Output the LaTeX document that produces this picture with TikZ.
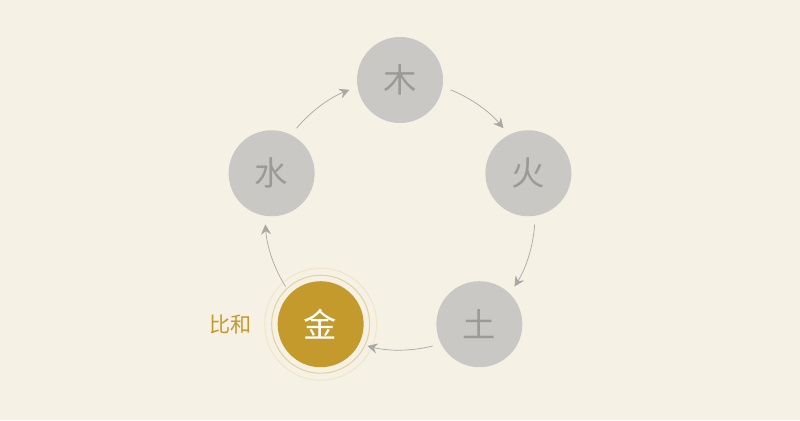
\documentclass[tikz,border=0pt]{standalone}
\usepackage{fontspec}
\newfontfamily\cjk{Noto Sans CJK SC}
\usetikzlibrary{arrows.meta,calc,positioning}
\definecolor{paper}{HTML}{F6F1E5}
\definecolor{gold}{HTML}{C49A2C}
\definecolor{ash}{HTML}{C9C8C5}
\definecolor{ink}{HTML}{9B9A97}
\definecolor{arc}{HTML}{A9A8A5}
\tikzset{
  elem/.style={circle,fill=ash,minimum size=1.72cm,inner sep=0pt,
    text=ink,font=\cjk\fontsize{19}{19}\selectfont},
  self/.style={elem,fill=gold,text=white},
  flow/.style={-{Stealth[length=2mm,width=2mm]},arc,thin}
}
\begin{document}
\begin{tikzpicture}
  \fill[paper] (0,0) rectangle (16,8.4);
  \useasboundingbox (0,0) rectangle (16,8.4);
  \coordinate (C) at (8,4.1);
  % the five elements
  \node[elem] (wood) at ($(C)+(90:2.7)$) {木};
  \node[elem] (fire) at ($(C)+(18:2.7)$) {火};
  \node[elem] (earth) at ($(C)+(-54:2.7)$) {土};
  \node[self] (metal) at ($(C)+(-126:2.7)$) {金};
  \node[elem] (water) at ($(C)+(162:2.7)$) {水};
  % rings round the self element
  \draw[gold!45,line width=0.6pt] (metal) circle (0.98);
  \draw[gold!25,line width=0.6pt] (metal) circle (1.12);
  \node[text=gold,font=\cjk\fontsize{12}{12}\selectfont,anchor=east] (same) at ($(metal)+(-1.25,0)$) {比和};
  % generating cycle
  \foreach \s/\e in {68/40,-4/-32,-76/-104,-148/-176,140/112}
    \draw[flow] (C) ++(\s:2.7) arc (\s:\e:2.7);
\end{tikzpicture}
\end{document}
